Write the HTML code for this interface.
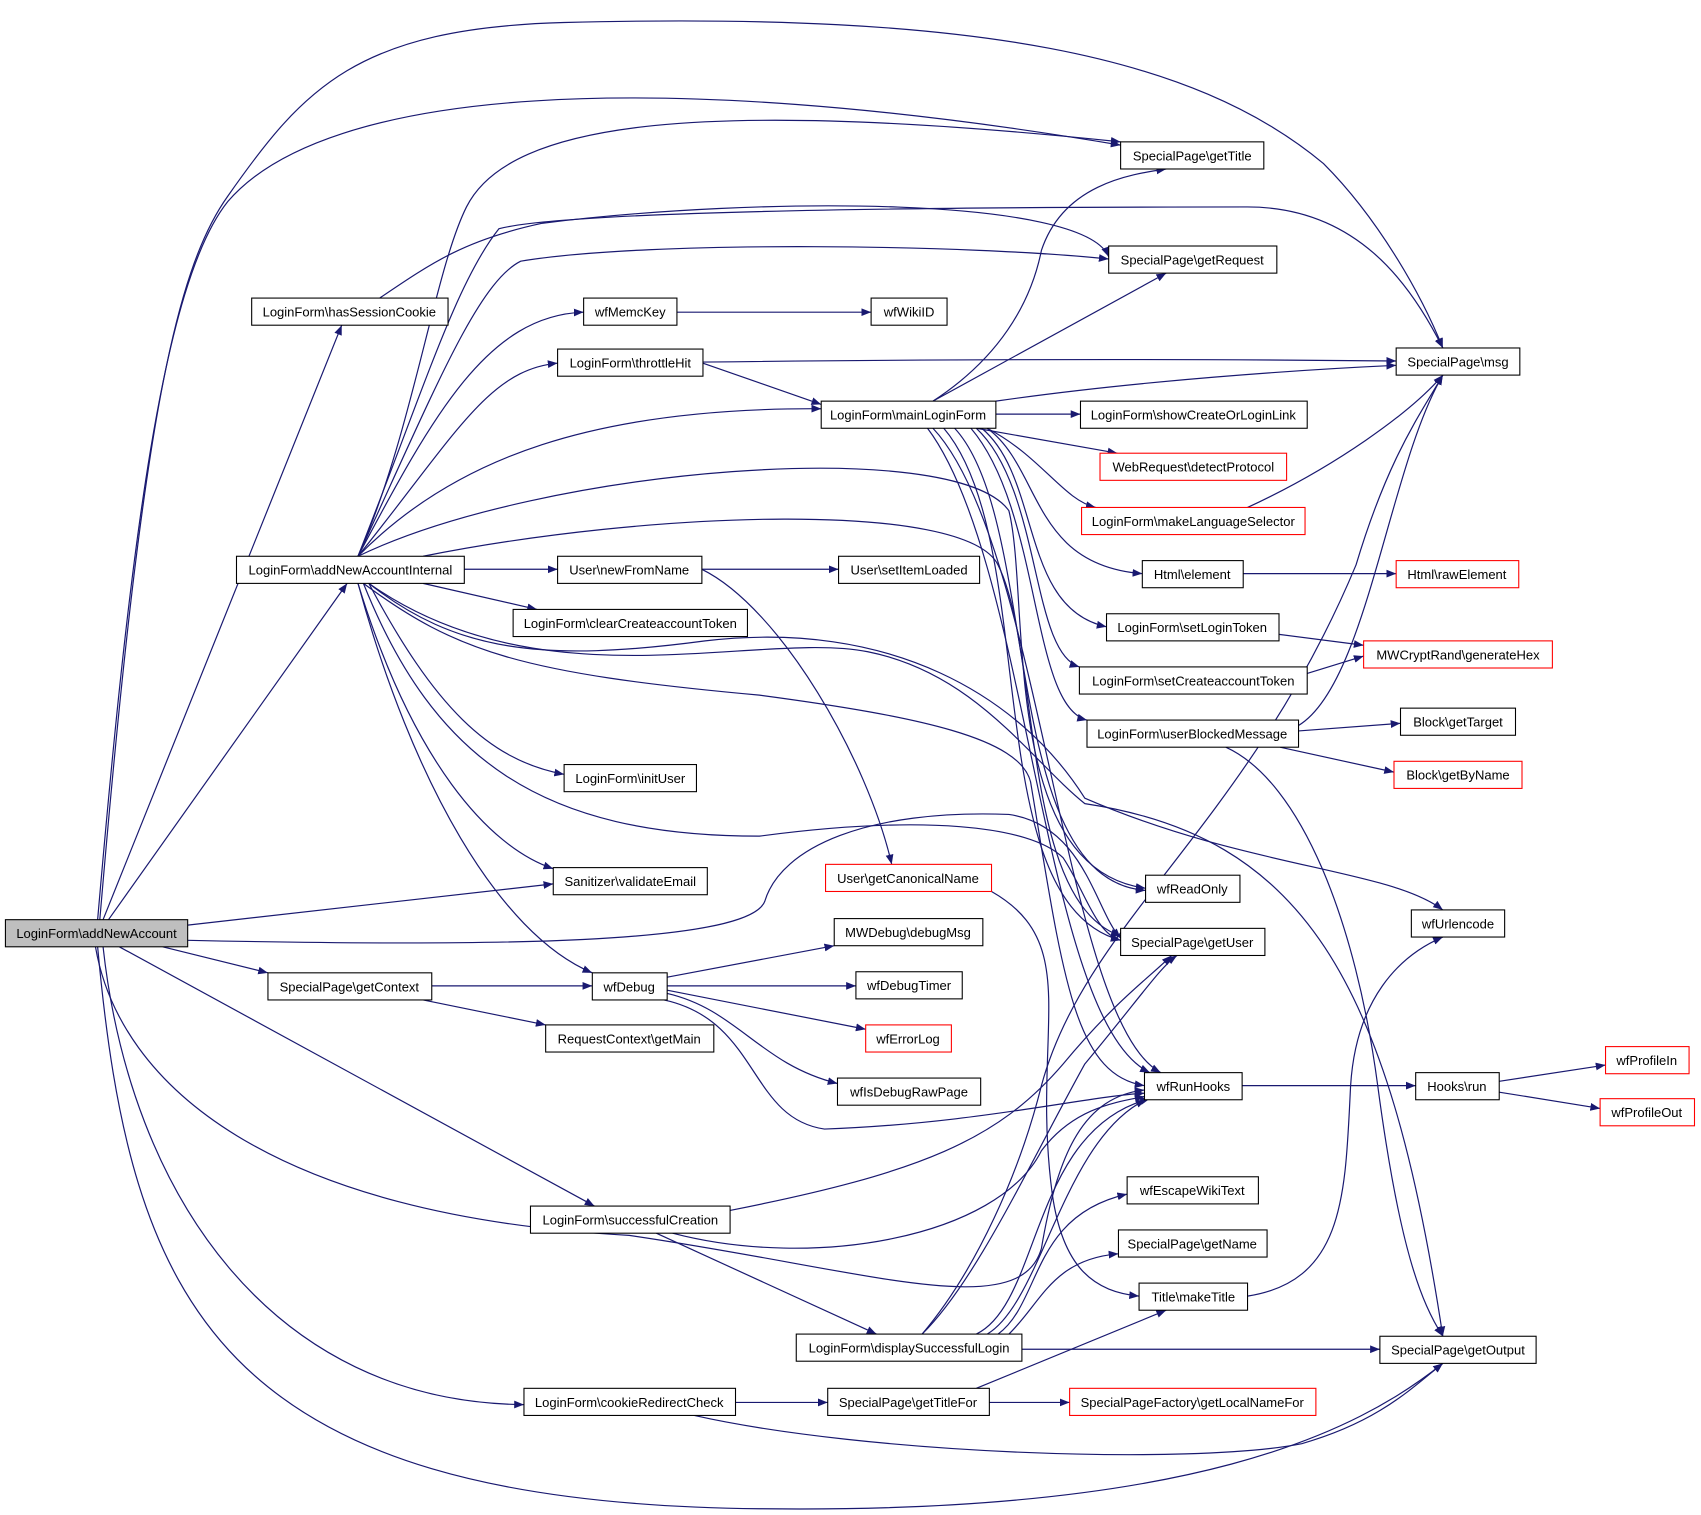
<!DOCTYPE html>
<html><head><meta charset="utf-8"><style>
html,body{margin:0;padding:0;background:#fff}
svg{display:block}
text{font-family:"Liberation Sans",sans-serif;font-size:12px;fill:#000}
.e{fill:none;stroke:#191970;stroke-width:1.1}
</style></head><body>
<svg width="1701" height="1515" viewBox="0 0 1568 1395" xmlns="http://www.w3.org/2000/svg">
<defs><marker id="a" viewBox="0 0 10 10" refX="10" refY="5" markerWidth="9" markerHeight="9" orient="auto" markerUnits="userSpaceOnUse"><path d="M0,1 L10,5 L0,9 z" fill="#191970"/></marker></defs>
<g class="e" marker-end="url(#a)">
<!-- addNewAccount -->
<path d="M90,847 C120,500 150,260 210,185 C300,80 600,60 1033,133"/>
<path d="M92,847 C130,400 160,250 210,180 C280,80 330,25 520,20 C900,10 1100,50 1220,150 C1270,200 1310,270 1330,320"/>
<path d="M95,847 L315,299"/>
<path d="M100,847 L320,537"/>
<path d="M173,852 L510,814"/>
<path d="M173,866 C450,872 690,870 705,830 C720,780 800,745 930,750 C1000,760 1010,840 1033,864"/>
<path d="M150,872 L247,896"/>
<path d="M110,872 L548,1111"/>
<path d="M95,872 C120,1100 250,1292 483,1294"/>
<path d="M90,872 C120,1200 200,1385 700,1390 C1100,1395 1250,1320 1330,1256"/>
<path d="M88,872 C110,1000 250,1120 580,1138 C800,1170 940,1220 960,1150 C975,1060 1000,1010 1055,1004"/>
<!-- hasSessionCookie -->
<path d="M350,274 C400,240 430,220 500,205 C700,180 1000,180 1022,236"/>
<!-- addNewAccountInternal -->
<path d="M330,512 C380,400 400,250 430,190 C470,110 650,90 1033,130"/>
<path d="M330,512 C400,360 440,260 480,240 C600,220 900,225 1022,238"/>
<path d="M330,512 C390,360 420,260 460,210 C520,195 800,190 1150,190 C1250,190 1300,260 1330,320"/>
<path d="M330,512 C400,380 450,290 538,287"/>
<path d="M330,512 C420,400 450,340 514,334"/>
<path d="M330,512 C420,420 550,375 757,376"/>
<path d="M428,524 L514,524"/>
<path d="M390,537 L495,561"/>
<path d="M340,537 C400,650 450,700 520,713"/>
<path d="M330,537 C380,700 450,780 510,800"/>
<path d="M330,537 C380,720 460,860 546,896"/>
<path d="M330,512 C500,430 880,400 930,470 C950,550 920,800 1056,818"/>
<path d="M390,512 C600,470 890,460 920,520 C960,600 940,830 1033,862"/>
<path d="M340,537 C420,600 500,610 650,590 C820,570 940,640 1000,735 C1150,800 1280,800 1330,838"/>
<path d="M335,537 C420,600 480,620 700,640 C850,660 940,680 950,720 C980,900 990,990 1055,1000"/>
<path d="M335,537 C400,700 500,770 700,770 C850,750 950,760 980,790 C1000,820 1010,860 1033,866"/>
<path d="M340,537 C500,650 700,580 800,600 C900,620 950,700 1000,740 C1200,770 1280,900 1330,1231"/>
<!-- throttleHit -->
<path d="M648,334 L757,372"/>
<path d="M648,333 C900,330 1100,330 1287,332"/>
<!-- wfMemcKey -->
<path d="M624,287 L803,287"/>
<!-- mainLoginForm -->
<path d="M860,369 C920,330 950,280 960,230 C980,170 1040,160 1075,155"/>
<path d="M860,369 L1075,251"/>
<path d="M918,369 C1050,350 1200,340 1287,336"/>
<path d="M918,381 L996,381"/>
<path d="M900,394 L1030,417"/>
<path d="M910,394 C960,420 980,460 1010,467"/>
<path d="M910,394 C960,430 950,520 1053,528"/>
<path d="M905,394 C960,440 940,560 1020,577"/>
<path d="M900,394 C960,450 950,600 995,614"/>
<path d="M895,394 C960,470 950,650 1002,663"/>
<path d="M880,394 C960,480 920,810 1056,820"/>
<path d="M870,394 C960,500 900,830 1033,866"/>
<path d="M860,394 C960,500 980,940 1070,988"/>
<path d="M855,394 C950,520 960,940 1060,988"/>
<!-- newFromName -->
<path d="M647,524 L773,524"/>
<path d="M647,524 C720,560 800,700 822,796"/>
<!-- getContext -->
<path d="M398,908 L546,908"/>
<path d="M390,921 L503,944"/>
<!-- wfDebug -->
<path d="M615,900 L769,871"/>
<path d="M615,908 L789,908"/>
<path d="M615,912 L798,948"/>
<path d="M615,915 C680,930 700,980 772,998"/>
<path d="M612,921 C700,940 690,1030 760,1040 C900,1035 1000,1010 1055,1007"/>
<!-- getCanonicalName -->
<path d="M914,821 C1000,870 950,950 970,1100 C980,1170 1010,1190 1050,1194"/>
<!-- successfulCreation -->
<path d="M673,1115 C850,1080 920,1050 980,980 C1030,920 1060,900 1080,880"/>
<path d="M620,1136 C750,1170 920,1140 960,1060 C990,1020 1030,1015 1055,1010"/>
<path d="M605,1136 L808,1229"/>
<!-- displaySuccessfulLogin -->
<path d="M850,1229 C900,1170 940,1080 960,1000 C1000,850 1150,760 1250,520 C1280,420 1310,380 1330,345"/>
<path d="M900,1229 C960,1200 950,1040 1060,1012"/>
<path d="M910,1229 C960,1200 980,1050 1056,1013"/>
<path d="M920,1229 C960,1200 950,1120 1039,1100"/>
<path d="M930,1229 C960,1200 970,1160 1031,1155"/>
<path d="M942,1243 L1272,1243"/>
<path d="M850,1229 C900,1180 950,1070 1000,980 C1050,920 1070,890 1085,880"/>
<!-- cookieRedirectCheck -->
<path d="M678,1292 L763,1292"/>
<path d="M640,1304 C800,1340 1100,1350 1200,1330 C1270,1310 1300,1280 1330,1256"/>
<!-- getTitleFor -->
<path d="M900,1279 L1075,1207"/>
<path d="M912,1292 L986,1292"/>
<!-- makeTitle -->
<path d="M1150,1194 C1240,1180 1240,1100 1245,1000 C1250,920 1290,880 1330,863"/>
<!-- Html element -->
<path d="M1146,528 L1287,528"/>
<path d="M1179,584 L1257,594"/>
<path d="M1205,620 L1257,604"/>
<!-- makeLanguageSelector -->
<path d="M1150,467 C1230,430 1300,380 1330,345"/>
<!-- userBlockedMessage -->
<path d="M1197,668 C1260,630 1280,430 1330,345"/>
<path d="M1197,673 L1291,666"/>
<path d="M1180,688 L1285,711"/>
<path d="M1130,688 C1200,720 1250,850 1270,1000 C1290,1150 1310,1200 1330,1231"/>
<!-- wfRunHooks -->
<path d="M1145,1000 L1305,1000"/>
<path d="M1382,996 L1480,981"/>
<path d="M1382,1006 L1475,1021"/>
</g>
<g font-family="Liberation Sans" font-size="12">
<g stroke="#000" stroke-width="1" fill="#fff">
<rect x="5" y="847" width="168" height="25" fill="#bfbfbf"/>
<rect x="232" y="274" width="181" height="25"/>
<rect x="218" y="512" width="210" height="25"/>
<rect x="247" y="896" width="151" height="25"/>
<rect x="489" y="1111" width="184" height="25"/>
<rect x="483" y="1279" width="195" height="25"/>
<rect x="538" y="274" width="86" height="25"/>
<rect x="514" y="321" width="134" height="25"/>
<rect x="514" y="512" width="133" height="25"/>
<rect x="473" y="561" width="216" height="25"/>
<rect x="520" y="704" width="122" height="25"/>
<rect x="510" y="799" width="142" height="25"/>
<rect x="546" y="896" width="69" height="25"/>
<rect x="503" y="944" width="155" height="25"/>
<rect x="734" y="1229" width="208" height="25"/>
<rect x="763" y="1279" width="149" height="25"/>
<rect x="803" y="274" width="70" height="25"/>
<rect x="757" y="369" width="161" height="25"/>
<rect x="773" y="512" width="130" height="25"/>
<rect x="761" y="796" width="153" height="25" stroke="#f00"/>
<rect x="769" y="846" width="137" height="25"/>
<rect x="789" y="895" width="98" height="25"/>
<rect x="798" y="944" width="79" height="25" stroke="#f00"/>
<rect x="772" y="993" width="132" height="25"/>
<rect x="1033" y="130" width="132" height="25"/>
<rect x="1022" y="226" width="155" height="25"/>
<rect x="996" y="369" width="209" height="25"/>
<rect x="1014" y="417" width="172" height="25" stroke="#f00"/>
<rect x="997" y="467" width="206" height="25" stroke="#f00"/>
<rect x="1053" y="516" width="93" height="25"/>
<rect x="1020" y="565" width="159" height="25"/>
<rect x="995" y="614" width="210" height="25"/>
<rect x="1002" y="663" width="195" height="25"/>
<rect x="1056" y="806" width="87" height="25"/>
<rect x="1033" y="855" width="133" height="25"/>
<rect x="1055" y="988" width="90" height="25"/>
<rect x="1039" y="1084" width="121" height="25"/>
<rect x="1031" y="1133" width="137" height="25"/>
<rect x="1050" y="1182" width="100" height="25"/>
<rect x="986" y="1279" width="227" height="25" stroke="#f00"/>
<rect x="1287" y="320" width="114" height="25"/>
<rect x="1287" y="516" width="113" height="25" stroke="#f00"/>
<rect x="1257" y="590" width="174" height="25" stroke="#f00"/>
<rect x="1291" y="652" width="106" height="25"/>
<rect x="1285" y="701" width="118" height="25" stroke="#f00"/>
<rect x="1301" y="838" width="86" height="25"/>
<rect x="1305" y="988" width="77" height="25"/>
<rect x="1480" y="964" width="77" height="25" stroke="#f00"/>
<rect x="1475" y="1012" width="87" height="25" stroke="#f00"/>
<rect x="1272" y="1231" width="144" height="25"/>
</g>
<g text-anchor="middle">
<text x="89" y="864">LoginForm\addNewAccount</text>
<text x="322" y="291">LoginForm\hasSessionCookie</text>
<text x="323" y="529">LoginForm\addNewAccountInternal</text>
<text x="322" y="913">SpecialPage\getContext</text>
<text x="581" y="1128">LoginForm\successfulCreation</text>
<text x="580" y="1296">LoginForm\cookieRedirectCheck</text>
<text x="581" y="291">wfMemcKey</text>
<text x="581" y="338">LoginForm\throttleHit</text>
<text x="580" y="529">User\newFromName</text>
<text x="581" y="578">LoginForm\clearCreateaccountToken</text>
<text x="581" y="721">LoginForm\initUser</text>
<text x="581" y="816">Sanitizer\validateEmail</text>
<text x="580" y="913">wfDebug</text>
<text x="580" y="961">RequestContext\getMain</text>
<text x="838" y="1246">LoginForm\displaySuccessfulLogin</text>
<text x="837" y="1296">SpecialPage\getTitleFor</text>
<text x="838" y="291">wfWikiID</text>
<text x="837" y="386">LoginForm\mainLoginForm</text>
<text x="838" y="529">User\setItemLoaded</text>
<text x="837" y="813" fill="#000">User\getCanonicalName</text>
<text x="837" y="863">MWDebug\debugMsg</text>
<text x="838" y="912">wfDebugTimer</text>
<text x="837" y="961">wfErrorLog</text>
<text x="838" y="1010">wfIsDebugRawPage</text>
<text x="1099" y="147">SpecialPage\getTitle</text>
<text x="1099" y="243">SpecialPage\getRequest</text>
<text x="1100" y="386">LoginForm\showCreateOrLoginLink</text>
<text x="1100" y="434">WebRequest\detectProtocol</text>
<text x="1100" y="484">LoginForm\makeLanguageSelector</text>
<text x="1099" y="533">Html\element</text>
<text x="1099" y="582">LoginForm\setLoginToken</text>
<text x="1100" y="631">LoginForm\setCreateaccountToken</text>
<text x="1099" y="680">LoginForm\userBlockedMessage</text>
<text x="1099" y="823">wfReadOnly</text>
<text x="1099" y="872">SpecialPage\getUser</text>
<text x="1100" y="1005">wfRunHooks</text>
<text x="1099" y="1101">wfEscapeWikiText</text>
<text x="1099" y="1150">SpecialPage\getName</text>
<text x="1100" y="1199">Title\makeTitle</text>
<text x="1099" y="1296">SpecialPageFactory\getLocalNameFor</text>
<text x="1344" y="337">SpecialPage\msg</text>
<text x="1343" y="533">Html\rawElement</text>
<text x="1344" y="607">MWCryptRand\generateHex</text>
<text x="1344" y="669">Block\getTarget</text>
<text x="1344" y="718">Block\getByName</text>
<text x="1344" y="855">wfUrlencode</text>
<text x="1343" y="1005">Hooks\run</text>
<text x="1518" y="981">wfProfileIn</text>
<text x="1518" y="1029">wfProfileOut</text>
<text x="1344" y="1248">SpecialPage\getOutput</text>
</g>
</g>
</svg>
</body></html>
